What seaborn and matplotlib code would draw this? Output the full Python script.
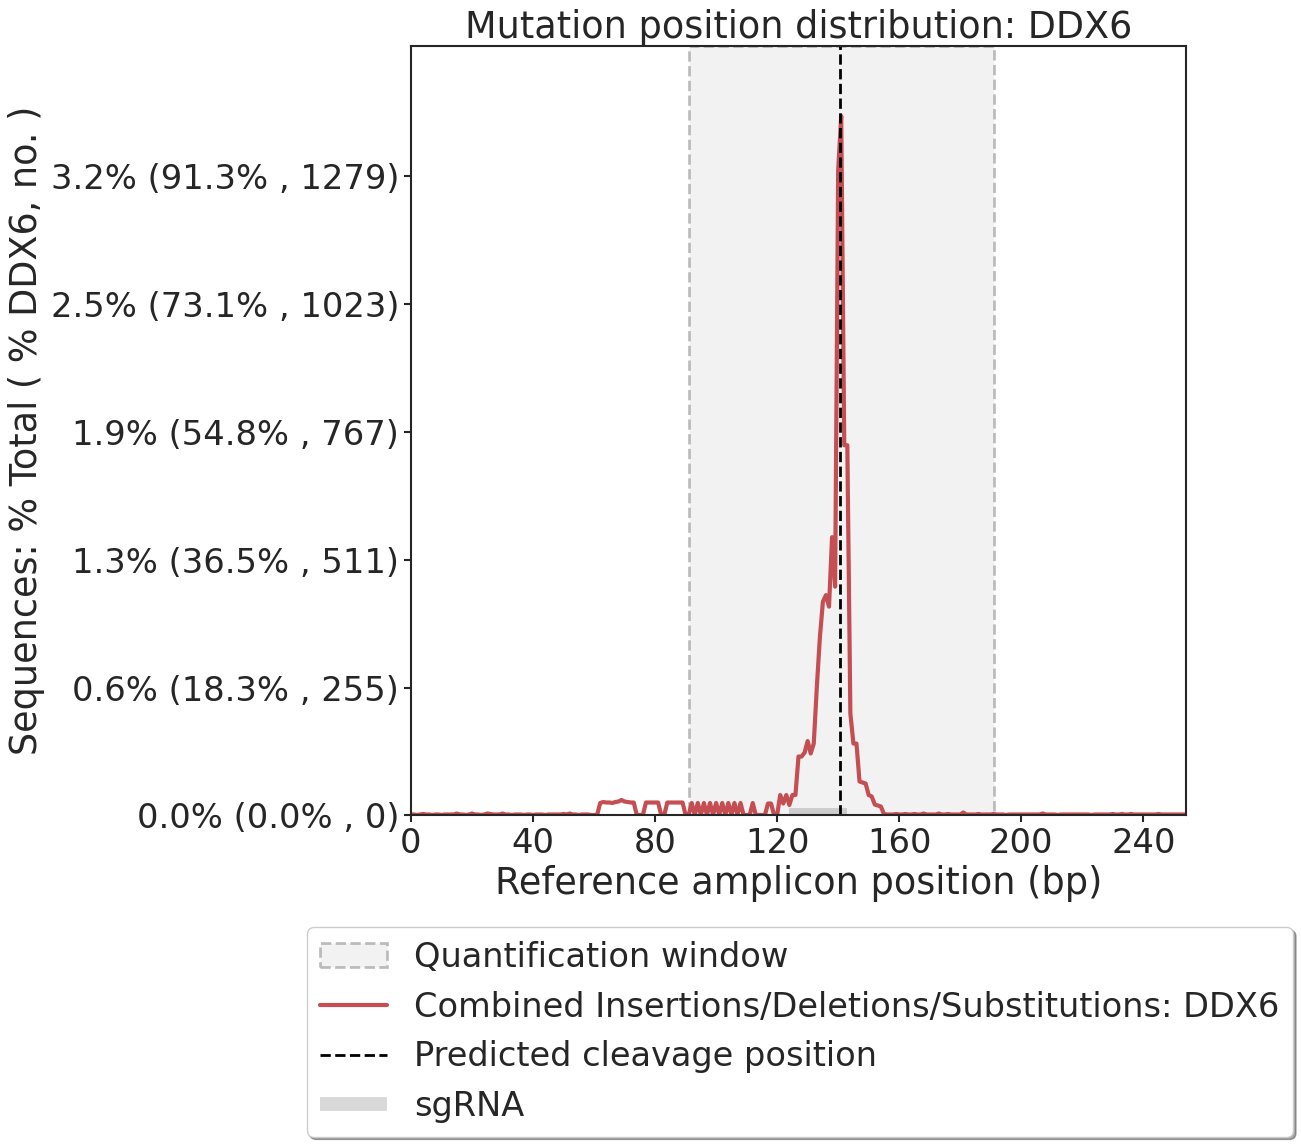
import matplotlib
matplotlib.use('Agg')
import matplotlib.pyplot as plt
import matplotlib.patches as patches
from matplotlib.lines import Line2D
import seaborn as sns
import pandas as pd
import numpy as np

# per-position counts of reads with an indel/substitution (amplicon positions 0..254)
mod_counts = [
    1, 1, 0, 1, 2, 1, 1, 0, 1, 1,
    0, 1, 1, 1, 1, 3, 1, 1, 0, 1,
    3, 1, 1, 0, 1, 3, 2, 1, 1, 1,
    3, 1, 1, 0, 1, 1, 1, 0, 1, 1,
    0, 1, 1, 1, 0, 1, 1, 1, 1, 1,
    2, 1, 3, 1, 1, 0, 1, 1, 1, 0,
    0, 0, 24, 26, 25, 25, 24, 26, 27, 30,
    27, 26, 25, 25, 0, 0, 0, 25, 25, 25,
    25, 25, 0, 0, 25, 25, 25, 25, 25, 25,
    0, 0, 24, 0, 24, 0, 24, 0, 24, 0,
    24, 0, 24, 0, 24, 0, 24, 0, 24, 0,
    0, 0, 24, 0, 0, 0, 0, 23, 23, 0,
    0, 40, 23, 40, 20, 40, 40, 117, 117, 125,
    148, 123, 143, 255, 355, 427, 440, 417, 556, 457,
    1290, 1399, 740, 740, 203, 143, 143, 67, 65, 63,
    40, 37, 21, 19, 17, 2, 1, 1, 1, 2,
    1, 1, 2, 1, 1, 2, 1, 1, 3, 1,
    1, 1, 1, 3, 1, 1, 2, 1, 1, 1,
    1, 5, 1, 1, 1, 1, 2, 1, 1, 1,
    1, 2, 1, 1, 1, 0, 1, 1, 1, 1,
    1, 1, 1, 1, 1, 1, 1, 3, 1, 1,
    1, 1, 0, 1, 1, 1, 1, 1, 1, 1,
    1, 1, 1, 0, 1, 1, 1, 1, 1, 1,
    2, 1, 1, 2, 1, 1, 2, 1, 1, 1,
    1, 1, 1, 1, 1, 2, 1, 1, 1, 1,
    1, 1, 1, 1, 1,
]
amplicon_len = 255
quant_window = (91, 191)
sgRNA_interval = (124, 143)
cut_position = 140.6

ytick_counts = [0, 255, 511, 767, 1023, 1279]
ytick_labels = ['0.0% (0.0% , 0)', '0.6% (18.3% , 255)', '1.3% (36.5% , 511)',
                '1.9% (54.8% , 767)', '2.5% (73.1% , 1023)', '3.2% (91.3% , 1279)']
xtick_values = [0, 40, 80, 120, 160, 200, 240]

sns.set_style('ticks')
text_col = '.15'
plt.rcParams['font.family'] = ['DejaVu Sans']

df = pd.DataFrame({'position': np.arange(amplicon_len), 'count': mod_counts})
y_max = max(mod_counts) * 1.1

fig = plt.figure(figsize=(13.01, 11.46), dpi=100)
ax = fig.add_axes([411 / 1301, 331 / 1146, 775 / 1301, 769 / 1146])

# quantification window
qw = patches.Rectangle((quant_window[0], 0), quant_window[1] - quant_window[0], y_max,
                       facecolor=(0.5, 0.5, 0.5, 0.1), edgecolor=(0.5, 0.5, 0.5, 0.5),
                       linestyle='dashed', lw=2, label='Quantification window')
ax.add_patch(qw)

sns.lineplot(data=df, x='position', y='count', ax=ax, color='#C44E52', lw=3,
             label='Combined Insertions/Deletions/Substitutions: DDX6')
ax.plot([cut_position, cut_position], [0, y_max], '--k', lw=2, label='Predicted cleavage position')
ax.plot([sgRNA_interval[0], sgRNA_interval[1]], [0, 0], lw=10, color=(0, 0, 0, 0.15),
        solid_capstyle='butt', label='sgRNA')

ax.set_xlim(0, amplicon_len - 1)
ax.set_ylim(0, y_max)
ax.set_xticks(xtick_values)
ax.set_xticklabels([str(v) for v in xtick_values])
ax.set_yticks(ytick_counts)
ax.set_yticklabels(ytick_labels)
ax.tick_params(axis='both', labelsize=24.3, colors=text_col, length=5, width=1.5)
for sp in ax.spines.values():
    sp.set_linewidth(1.5)
    sp.set_color(text_col)

ax.set_title('Mutation position distribution: DDX6', fontsize=26.4, color=text_col)
ax.set_xlabel('Reference amplicon position (bp)', fontsize=26.4, color=text_col)
ax.set_ylabel('Sequences: % Total ( % DDX6, no. )', fontsize=26.4, color=text_col)

handles = [
    patches.Patch(facecolor=(0.5, 0.5, 0.5, 0.1), edgecolor=(0.5, 0.5, 0.5, 0.5),
                  linestyle='dashed', lw=2),
    Line2D([0], [0], color='#C44E52', lw=3),
    Line2D([0], [0], color='k', lw=2, linestyle='--'),
    Line2D([0], [0], color=(0, 0, 0, 0.15), lw=10, solid_capstyle='butt'),
]
labels = ['Quantification window', 'Combined Insertions/Deletions/Substitutions: DDX6',
          'Predicted cleavage position', 'sgRNA']
leg = ax.legend(handles, labels, loc='center', bbox_to_anchor=(800 / 1301, 1 - 1032 / 1146),
                bbox_transform=fig.transFigure, fancybox=True, shadow=True, fontsize=24.2,
                frameon=True)
for t in leg.get_texts():
    t.set_color(text_col)

fig.savefig('out.png', dpi=100)
